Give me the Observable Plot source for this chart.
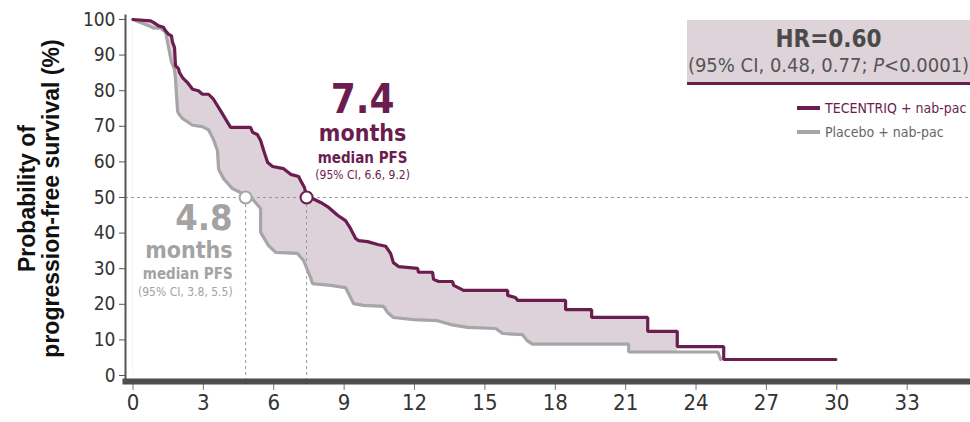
<!DOCTYPE html>
<html><head><meta charset="utf-8">
<script src="https://cdn.jsdelivr.net/npm/d3@7"></script>
<script src="https://cdn.jsdelivr.net/npm/@observablehq/plot@0.6"></script>
<style>
body{margin:0;background:#fff;}
#wrap{position:relative;width:970px;height:422px;overflow:hidden;background:#fff;}
#wrap svg{position:absolute;left:0;top:0;}
#wrap svg text{font-stretch:semi-condensed;}
#wrap svg g.ytitle text{font-stretch:normal;}
#hr{position:absolute;left:687px;top:20px;width:283px;height:62px;background:#ddd3d9;border-bottom:3px solid #6b1d4f;text-align:center;font-family:"Liberation Sans Narrow","DejaVu Sans Condensed","DejaVu Sans",sans-serif;font-stretch:semi-condensed;}
#hr .t1{font-weight:bold;font-size:24px;color:#4a4a4a;line-height:25px;margin-top:7px;}
#hr .t2{font-size:20px;color:#555;line-height:26px;white-space:nowrap;}
.leg{position:absolute;left:797px;height:20px;font-family:"Liberation Sans Narrow","DejaVu Sans Condensed","DejaVu Sans",sans-serif;font-stretch:semi-condensed;font-size:14px;white-space:nowrap;}
.leg .sw{position:absolute;left:0;top:8px;width:23px;height:4px;}
.leg .lb{position:absolute;left:28px;top:0;line-height:20px;}
g[aria-label="x-axis tick label"]{font-size:22px;}
g[aria-label="y-axis tick label"]{font-size:19px;}
</style></head><body><div id="wrap"></div>
<script>
// TECENTRIQ + nab-pac (months, % PFS)
const tecMonths = [0,0.75,0.87,1.09,1.3,1.39,1.51,1.64,1.68,1.77,1.81,1.94,1.98,2.11,2.32,2.54,2.79,2.96,3.22,3.43,3.73,4.16,5.01,5.1,5.3,5.44,5.57,5.74,5.95,6.42,6.72,7.06,7.14,7.31,7.4,7.65,8.0,8.34,8.72,9.06,9.27,9.49,9.62,10.0,10.43,10.77,10.98,11.1,11.32,12.13,12.17,12.77,12.81,13.03,13.62,13.67,14.09,15.97,15.97,16.3,16.4,18.44,18.44,19.55,19.55,21.94,21.94,23.2,23.2,25.18,25.18,29.96];
const tecPct    = [100,99.6,99.2,98.2,97.8,96.8,95.9,95.4,93.7,92.1,87,86.2,85.1,83.7,82.3,80.4,80.0,79.0,79.0,77.6,74.4,69.7,69.7,68.3,67.7,66.0,63.2,59.8,58.7,58.1,56.5,55.9,54.8,52.8,50,49.7,48.6,47.2,45.0,43.5,41.3,38.5,37.9,37.6,36.8,36.3,34.3,31.7,30.6,30.1,29.0,29.0,27.0,26.4,26.4,25.3,23.9,23.9,22.5,21.9,21.1,21.1,18.5,18.5,16.3,16.3,12.4,12.4,8.1,8.1,4.5,4.5];
// Placebo + nab-pac
const pboMonths = [0,0.75,0.87,1.17,1.39,1.64,1.77,1.81,1.9,1.94,2.11,2.54,2.96,3.22,3.43,3.6,3.65,3.86,4.24,4.58,4.8,5.14,5.44,5.44,5.78,6.08,7.01,7.27,7.57,7.65,8.42,9.06,9.4,9.83,10.68,10.85,11.1,11.96,12.98,13.54,14.26,15.46,15.76,16.6,16.8,17.03,21.13,21.13,24.93,25.05];
const pboPct    = [100,98,97.6,97.6,96.4,88,86,83.4,74.2,73.6,72.2,70.3,69.9,69.0,66.3,63.2,57.9,55.3,52.5,51.4,50,49.2,46.9,40.2,36.5,34.6,34.3,32.3,27.5,25.8,25.3,24.7,20.2,19.7,19.4,17.7,16.3,15.7,15.4,14.3,13.5,13.2,11.8,11.5,9.8,8.8,8.8,6.6,6.6,4.5];
const armNames = ["TECENTRIQ + nab-pac", "Placebo + nab-pac"];
const medianMonths = [7.4, 4.8];
const medianCI = [[6.6, 9.2], [3.8, 5.5]];
const hrValues = [0.60, 0.48, 0.77];
const pText = "<0.0001";
const xTicks = [0,3,6,9,12,15,18,21,24,27,30,33];
const yTicks = [0,10,20,30,40,50,60,70,80,90,100];
const yTitle = ["Probability of", "progression-free survival (%)"];

const PURPLE = "#6b1d4f", GRAY = "#a6a6a6", FILL = "#ddd2d9", GRAYTXT = "#a3a3a3";
const NARROW = '"Liberation Sans Narrow","DejaVu Sans Condensed","DejaVu Sans",sans-serif';

const tec = tecMonths.map((m,i)=>({month:m, pct:tecPct[i]}));
const pbo = pboMonths.map((m,i)=>({month:m, pct:pboPct[i]}));
const pboEnd = d3.max(pboMonths);
const tecBand = tec.filter(d=>d.month<=pboEnd);
const medTec = [{month: medianMonths[0], pct: 50}];
const medPbo = [{month: medianMonths[1], pct: 50}];
const xDom = [-0.32, 35.7], yDom = [-1.685, 101.12];
const f1 = d3.format(".1f");

const chart = Plot.plot({
  width: 970, height: 422,
  marginLeft: 125, marginRight: 0, marginTop: 15, marginBottom: 41,
  x: {domain: xDom}, y: {domain: yDom},
  style: {fontFamily: NARROW, background: "white", color: "#333"},
  marks: [
    Plot.areaY(tecBand, {x:"month", y1: 0, y2:"pct", fill: FILL}),
    Plot.areaY(pbo, {x:"month", y1: 0, y2:"pct", fill: "white"}),
    Plot.ruleY([50], {stroke:"#9a9a9a", strokeDasharray:"3,3", strokeWidth:1}),
    Plot.ruleX(medTec.concat(medPbo), {x:"month", y1: yDom[0], y2:"pct", stroke:"#9a9a9a", strokeDasharray:"3,3", strokeWidth:1}),
    Plot.line(pbo, {x:"month", y:"pct", stroke: GRAY, strokeWidth: 3.2, strokeLinejoin:"miter"}),
    Plot.line(tec, {x:"month", y:"pct", stroke: PURPLE, strokeWidth: 3.2, strokeLinejoin:"miter"}),
    Plot.dot(medPbo, {x:"month", y:"pct", r:6, fill:"white", stroke: GRAY, strokeWidth:2}),
    Plot.dot(medTec, {x:"month", y:"pct", r:6, fill:"white", stroke: PURPLE, strokeWidth:2}),
    Plot.frame({anchor:"left", stroke:"#555", strokeWidth:2}),
    Plot.axisY({ticks: yTicks, tickSize: 6, tickPadding: 4, stroke:"#555", fill:"#333", label: null}),
    Plot.axisX({ticks: xTicks, tickSize: 9, tickPadding: 4, stroke:"#777", fill:"#333", label: null}),
    Plot.frame({anchor:"bottom", stroke:"#4d4d4d", strokeWidth:6}),
    // TECENTRIQ median annotation
    Plot.text(medTec, {x:"month", y:"pct", text: d=>f1(d.month), dx:56, dy:-97, fontSize:40, fontWeight:"bold", fill:PURPLE}),
    Plot.text(medTec, {x:"month", y:"pct", text: ()=>"months", dx:56, dy:-64, fontSize:23, fontWeight:"bold", fill:PURPLE}),
    Plot.text(medTec, {x:"month", y:"pct", text: ()=>"median PFS", dx:56, dy:-39, fontSize:15, fontWeight:"bold", fill:PURPLE}),
    Plot.text(medTec, {x:"month", y:"pct", text: ()=>`(95% CI, ${f1(medianCI[0][0])}, ${f1(medianCI[0][1])})`, dx:56, dy:-22, fontSize:12, fill:PURPLE}),
    // Placebo median annotation
    Plot.text(medPbo, {x:"month", y:"pct", text: d=>f1(d.month), dx:-13, dy:21, fontSize:36, fontWeight:"bold", fill:GRAYTXT, textAnchor:"end"}),
    Plot.text(medPbo, {x:"month", y:"pct", text: ()=>"months", dx:-13, dy:53, fontSize:23, fontWeight:"bold", fill:GRAYTXT, textAnchor:"end"}),
    Plot.text(medPbo, {x:"month", y:"pct", text: ()=>"median PFS", dx:-13, dy:77, fontSize:15, fontWeight:"bold", fill:GRAYTXT, textAnchor:"end"}),
    Plot.text(medPbo, {x:"month", y:"pct", text: ()=>`(95% CI, ${f1(medianCI[1][0])}, ${f1(medianCI[1][1])})`, dx:-13, dy:95, fontSize:12, fill:GRAYTXT, textAnchor:"end"}),
    // y title
    Plot.text([yTitle.join("\n")], {frameAnchor:"left", textAnchor:"middle", dx:-86, rotate:-90, fontSize:23, fontWeight:"bold", lineHeight:1.05, fill:"#111", fontFamily:'"Liberation Sans",Arial,sans-serif', className:"ytitle"})
  ]
});
const wrap = document.getElementById("wrap");
wrap.appendChild(chart);

const hr = document.createElement("div");
hr.id = "hr";
hr.innerHTML = `<div class="t1">HR=${hrValues[0].toFixed(2)}</div><div class="t2">(95% CI, ${hrValues[1].toFixed(2)}, ${hrValues[2].toFixed(2)}; <i>P</i>${pText.replace("<","&lt;")})</div>`;
wrap.appendChild(hr);

[[armNames[0], PURPLE, PURPLE, 98], [armNames[1], GRAY, "#666", 122]].forEach(([name, c, tc, top]) => {
  const d = document.createElement("div");
  d.className = "leg";
  d.style.top = top + "px";
  d.innerHTML = `<div class="sw" style="background:${c}"></div><div class="lb" style="color:${tc}">${name}</div>`;
  wrap.appendChild(d);
});
</script>
</body></html>
